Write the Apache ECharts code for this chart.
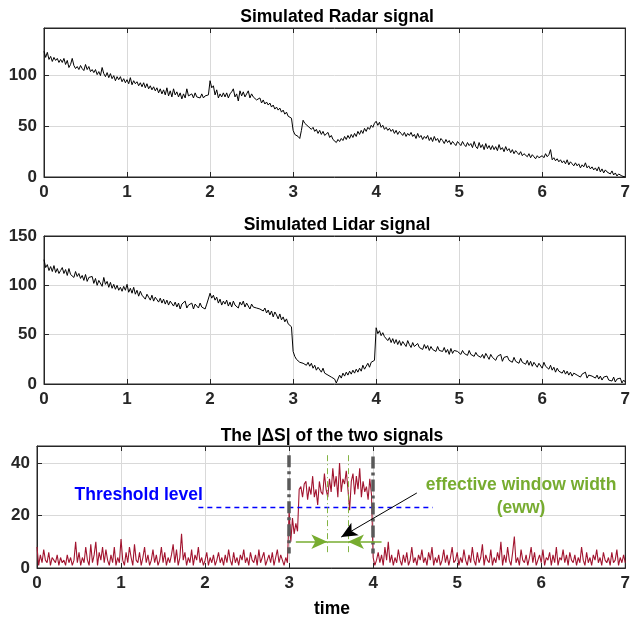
<!DOCTYPE html>
<html lang="en">
<head>
  <meta charset="UTF-8">
  <title>Radar / Lidar signals</title>
  <style>html, body { margin: 0; padding: 0; background: #fff; }</style>
</head>
<body>
  <div id="main" style="width: 633px; height: 621px;"></div>
  <script src="https://cdn.jsdelivr.net/npm/echarts@6/dist/echarts.min.js"></script>
  <script type="text/javascript">
    // sample spacing of the time axis (s)
    var STEP = 0.02;

    // simulated radar signal
    var radar = [
      124, 118, 123, 116, 119, 114, 118, 115, 117, 113,
      116, 113, 117, 111, 115, 108, 111, 117, 110, 107,
      109, 106, 110, 107, 105, 111, 106, 109, 104, 106,
      103, 106, 101, 104, 100, 108, 102, 99, 103, 98,
      102, 97, 100, 95, 99, 96, 99, 94, 97, 93,
      96, 92, 98, 91, 95, 92, 94, 90, 93, 89,
      93, 88, 92, 87, 90, 86, 89, 85, 88, 83,
      87, 82, 86, 81, 88, 80, 85, 79, 87, 81,
      84, 79, 83, 77, 82, 78, 87, 80, 79, 82,
      78, 83, 79, 80, 78, 82, 78, 80, 79, 81,
      95, 88, 90, 81, 86, 78, 82, 79, 83, 79,
      83, 78, 82, 84, 87, 79, 82, 75, 85, 80,
      84, 79, 82, 85, 78, 82, 79, 80, 76, 77,
      78, 73, 76, 72, 74, 71, 73, 69, 71, 67,
      69, 66, 68, 64, 66, 62, 64, 60, 61, 58,
      46, 42, 43, 40, 38, 46, 56, 53, 54, 50,
      50, 47, 49, 45, 47, 43, 46, 42, 45, 41,
      42, 44, 39, 41, 37, 38, 34, 37, 35, 38,
      36, 40, 37, 41, 38, 42, 39, 43, 40, 45,
      42, 46, 43, 48, 45, 49, 47, 51, 49, 53,
      55, 51, 54, 49, 51, 47, 49, 46, 48, 45,
      47, 43, 46, 42, 45, 43, 41, 44, 40, 43,
      41, 44, 40, 42, 38, 43, 39, 41, 37, 40,
      38, 41, 36, 39, 35, 40, 36, 38, 34, 38,
      36, 33, 37, 34, 36, 32, 35, 33, 31, 35,
      33, 31, 35, 32, 30, 34, 31, 33, 29, 35,
      30, 28, 34, 29, 32, 27, 33, 28, 31, 27,
      31, 27, 30, 26, 32, 27, 29, 25, 30, 26,
      28, 24, 27, 23, 26, 24, 22, 25, 21, 23,
      22, 20, 23, 19, 22, 20, 18, 21, 19, 20,
      21, 19, 23, 20, 22, 27, 17, 19, 16, 18,
      15, 17, 14, 16, 13, 17, 12, 15, 13, 11,
      14, 11, 13, 9, 12, 10, 14, 9, 11, 8,
      10, 7, 9, 6, 10, 5, 8, 4, 7, 5,
      5, 3, 6, 2, 4, 1, 3, 2, 1, 0,
      0
    ];

    // simulated lidar signal, middle panel
    var lidar = [
      126, 118, 121, 115, 119, 114, 120, 113, 117, 112,
      115, 118, 112, 116, 110, 117, 111, 113, 108, 114,
      109, 112, 107, 110, 105, 111, 104, 108, 106, 109,
      102, 107, 100, 105, 103, 99, 108, 101, 104, 98,
      103, 97, 101, 96, 100, 95, 98, 94, 99, 95,
      101, 93, 97, 92, 98, 91, 95, 89, 94, 90,
      92, 86, 91, 88, 85, 90, 84, 88, 86, 83,
      87, 82, 86, 81, 85, 80, 84, 82, 79, 83,
      78, 82, 76, 81, 79, 84, 77, 80, 78, 82,
      76, 81, 79, 77, 82, 78, 80, 76, 81, 79,
      92, 87, 90, 85, 88, 82, 86, 80, 84, 81,
      85, 79, 83, 78, 84, 80, 82, 77, 83, 80,
      84, 78, 82, 80, 76, 81, 78, 80, 77, 79,
      76, 78, 74, 77, 72, 75, 70, 74, 68, 73,
      70, 66, 71, 65, 68, 63, 66, 61, 60, 58,
      33, 28, 25, 27, 22, 24, 21, 23, 19, 22,
      18, 21, 16, 19, 14, 17, 15, 12, 16, 11,
      13, 9, 11, 7, 8, 5, 1, 3, 9, 6,
      11, 8, 12, 9, 13, 10, 14, 11, 15, 12,
      16, 13, 19, 15, 18, 21, 17, 22, 20, 24,
      57, 51, 54, 49, 52, 48, 50, 44, 47, 42,
      46, 41, 45, 40, 44, 39, 43, 41, 38, 44,
      40, 37, 42, 38, 36, 41, 37, 39, 35, 40,
      36, 39, 34, 38, 35, 37, 33, 38, 34, 36,
      33, 37, 32, 35, 30, 36, 31, 34, 32, 33,
      35, 30, 34, 31, 33, 29, 34, 30, 32, 28,
      32, 29, 31, 27, 30, 26, 31, 28, 25, 30,
      27, 29, 24, 28, 26, 30, 23, 27, 25, 28,
      24, 26, 22, 27, 23, 25, 21, 26, 22, 24,
      20, 24, 19, 23, 18, 22, 20, 17, 21, 19,
      16, 22, 18, 20, 15, 19, 14, 17, 12, 16,
      13, 15, 11, 14, 10, 13, 9, 12, 8, 11,
      12, 9, 11, 7, 10, 8, 12, 6, 9, 7,
      8, 10, 6, 9, 5, 8, 4, 7, 5, 8,
      4, 6, 3, 7, 2, 5, 3, 6, 1, 4,
      2
    ];

    // |ΔS| between the two signals, bottom panel
    var deltaS = [
      8, 1, 5, 2, 7, 3, 2, 6, 1, 4,
      3, 2, 5, 1, 4, 2, 3, 1, 5, 2,
      4, 1, 3, 10, 2, 6, 1, 4, 2, 8,
      3, 1, 9, 2, 5, 10, 1, 6, 3, 8,
      2, 7, 3, 1, 5, 2, 8, 1, 4, 2,
      11, 3, 1, 6, 2, 8, 4, 1, 9, 3,
      2, 6, 1, 4, 8, 2, 5, 1, 3, 7,
      2, 5, 1, 3, 8, 2, 6, 1, 4, 2,
      5, 9, 2, 7, 1, 4, 13, 3, 6, 1,
      4, 2, 7, 1, 5, 3, 8, 2, 4, 1,
      3, 6, 1, 4, 2, 5, 1, 3, 6, 2,
      4, 1, 5, 2, 7, 3, 1, 6, 2, 4,
      1, 5, 3, 7, 2, 4, 1, 6, 3, 2,
      5, 1, 7, 2, 4, 6, 1, 3, 5, 2,
      6, 1, 4, 7, 2, 5, 3, 1, 4, 2,
      22, 10, 19, 13, 17, 14, 30, 31, 27, 32,
      33, 26, 31, 28, 35, 27, 30, 24, 33, 29,
      28, 36, 30, 27, 34, 29, 38, 31, 35, 27,
      40, 29, 34, 32, 37, 30, 22, 33, 36, 28,
      35, 30, 38, 27, 33, 29, 31, 26, 34, 28,
      4, 1, 3, 6, 2, 5, 1, 8, 3, 10,
      2, 5, 1, 4, 2, 7, 3, 1, 5, 2,
      6, 1, 3, 8, 2, 4, 1, 5, 3, 7,
      2, 4, 1, 6, 3, 8, 1, 4, 2, 5,
      1, 3, 7, 2, 5, 1, 4, 8, 2, 3,
      6, 1, 4, 2, 7, 3, 1, 5, 2, 8,
      3, 1, 6, 2, 4, 9, 1, 5, 3, 2,
      7, 1, 4, 2, 6, 3, 10, 1, 5, 2,
      8, 3, 1, 6, 12, 2, 4, 1, 7, 3,
      2, 5, 1, 4, 8, 2, 6, 1, 3, 5,
      2, 7, 1, 4, 3, 6, 1, 5, 2, 8,
      1, 4, 3, 7, 2, 5, 1, 6, 3, 2,
      5, 1, 4, 2, 8, 3, 1, 6, 2, 4,
      1, 5, 3, 7, 2, 4, 1, 6, 3, 2,
      4, 1, 6, 2, 3, 7, 1, 4, 2, 5,
      2
    ];

    // annotation values (data units of the bottom panel)
    var threshold = 23;
    var thresholdSpan = [1.92, 4.71];
    var changeEdges = [3, 4];
    var ewwEdges = [3.455, 3.70];
    var arrowY = 10;

    var FONT = "'Liberation Sans', Arial, Helvetica, sans-serif";
    var TXT = '#262626';
    var GREEN = '#77AC30';

    function pairs(arr) {
      return arr.map(function (v, i) { return [+(i * STEP).toFixed(2), v]; });
    }

    // show: true draws the box round each panel
    var grids = [
      { left: 44, right: 5, top: 28, height: 149 },
      { left: 44, right: 5, top: 236, height: 148 },
      { left: 37, right: 6, top: 446, height: 122 }
    ].map(function (g) {
      g.show = true; g.borderColor = TXT; g.borderWidth = 1; g.backgroundColor = 'transparent';
      return g;
    });
    var yRange = [
      { max: 147, interval: 50 },
      { max: 150, interval: 50 },
      { max: 46.5, interval: 20 }
    ];

    var xAxes = [], yAxes = [];
    // bottom / left axes with labels
    grids.forEach(function (g, i) {
      xAxes.push({
        gridIndex: i, type: 'value', min: 0, max: 7, interval: 1,
        axisLine: { show: true, onZero: false, lineStyle: { color: TXT, width: 1 } },
        axisTick: { show: true, inside: true, length: 5, lineStyle: { color: TXT } },
        axisLabel: { color: TXT, fontWeight: 'bold', fontSize: 17, fontFamily: FONT, margin: 7 },
        splitLine: { show: true, lineStyle: { color: '#d9d9d9', width: 1 } }
      });
      yAxes.push({
        gridIndex: i, type: 'value', min: 0, max: yRange[i].max, interval: yRange[i].interval,
        axisLine: { show: true, onZero: false, lineStyle: { color: TXT, width: 1 } },
        axisTick: { show: true, inside: true, length: 5, lineStyle: { color: TXT } },
        axisLabel: { color: TXT, fontWeight: 'bold', fontSize: 17, fontFamily: FONT, margin: 7,
          showMaxLabel: i === 1 },
        splitLine: { show: true, lineStyle: { color: '#d9d9d9', width: 1 } }
      });
    });
    // top / right axes: inward ticks, no labels
    grids.forEach(function (g, i) {
      xAxes.push({
        gridIndex: i, type: 'value', position: 'top', min: 0, max: 7, interval: 1,
        axisLine: { show: true, onZero: false, lineStyle: { color: TXT, width: 1 } },
        axisTick: { show: true, inside: true, length: 5, lineStyle: { color: TXT } },
        axisLabel: { show: false }, splitLine: { show: false }
      });
      yAxes.push({
        gridIndex: i, type: 'value', position: 'right', min: 0, max: yRange[i].max, interval: yRange[i].interval,
        axisLine: { show: true, onZero: false, lineStyle: { color: TXT, width: 1 } },
        axisTick: { show: true, inside: true, length: 5, lineStyle: { color: TXT } },
        axisLabel: { show: false }, splitLine: { show: false }
      });
    });

    function seg(a, b, endSymbol, style) {
      return [
        { coord: a, symbol: 'none' },
        { coord: b, symbol: endSymbol || 'none', lineStyle: style }
      ];
    }

    var grayStyle = { color: '#595959', width: 3.5, type: [12, 4, 3, 4] };
    var ewwStyle = { color: GREEN, width: 1, type: [6, 3, 1, 3], opacity: 0.9 };
    var arrowStyle = { color: GREEN, width: 1.5, type: 'solid' };

    var myChart = echarts.init(document.getElementById('main'));
    var option = {
      animation: false,
      grid: grids,
      xAxis: xAxes,
      yAxis: yAxes,
      series: [
        {
          name: 'Radar', type: 'line', xAxisIndex: 0, yAxisIndex: 0,
          data: pairs(radar), showSymbol: false,
          lineStyle: { color: '#000', width: 1 }
        },
        {
          name: 'Lidar', type: 'line', xAxisIndex: 1, yAxisIndex: 1,
          data: pairs(lidar), showSymbol: false,
          lineStyle: { color: '#000', width: 1 }
        },
        {
          name: '|ΔS|', type: 'line', xAxisIndex: 2, yAxisIndex: 2,
          data: pairs(deltaS), showSymbol: false,
          lineStyle: { color: '#A2142F', width: 1.1 },
          markLine: {
            silent: true, animation: false,
            symbolSize: [11, 16],
            label: { show: false },
            data: [
              seg([thresholdSpan[0], threshold], [thresholdSpan[1], threshold], 'none',
                { color: '#0000FF', width: 1.3, type: [5, 4] }),
              seg([changeEdges[0], 43], [changeEdges[0], 5.5], 'none', grayStyle),
              seg([changeEdges[1], 42.5], [changeEdges[1], 5.5], 'none', grayStyle),
              seg([ewwEdges[0], 43], [ewwEdges[0], 5.5], 'none', ewwStyle),
              seg([ewwEdges[1], 43], [ewwEdges[1], 5.5], 'none', ewwStyle),
              seg([3.08, arrowY], [ewwEdges[0], arrowY], 'arrow', arrowStyle),
              seg([4.1, arrowY], [ewwEdges[1], arrowY], 'arrow', arrowStyle),
              seg([ewwEdges[0], arrowY], [ewwEdges[1], arrowY], 'none', arrowStyle),
              seg([4.52, 28.6], [3.62, 11.8], 'arrow', { color: '#000', width: 1, type: 'solid' })
            ]
          }
        }
      ]
    };
    myChart.setOption(option);

    // titles and text labels
    function txt(x, y, s, size, color) {
      return {
        type: 'text', x: x, y: y, silent: true, z: 100,
        style: {
          text: s, fill: color || TXT, font: 'bold ' + size + 'px ' + FONT,
          align: 'center', verticalAlign: 'middle', textAlign: 'center', textVerticalAlign: 'middle'
        }
      };
    }
    function at(pt) { return myChart.convertToPixel({ gridIndex: 2 }, pt); }
    var thrPos = at([1.21, 27.8]);
    var ewwPos = at([5.76, 31.6]);
    var ewwPos2 = at([5.76, 22.8]);

    myChart.setOption({
      graphic: [
        txt(337, 17, 'Simulated Radar signal', 17.5, '#000'),
        txt(337, 225, 'Simulated Lidar signal', 17.5, '#000'),
        txt(332, 436, 'The |ΔS| of the two signals', 17.5, '#000'),
        txt(332, 609, 'time', 17.5, '#000'),
        txt(thrPos[0], thrPos[1], 'Threshold level', 17.5, '#0000FF'),
        txt(ewwPos[0], ewwPos[1], 'effective window width', 17.5, GREEN),
        txt(ewwPos2[0], ewwPos2[1], '(eww)', 17.5, GREEN)
      ]
    });
  </script>
</body>
</html>
